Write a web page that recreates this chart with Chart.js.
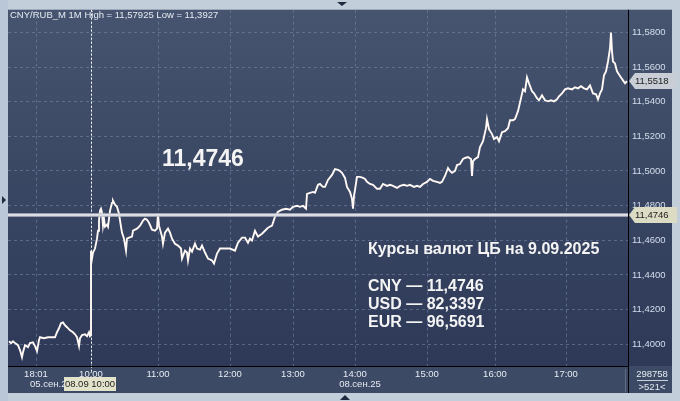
<!DOCTYPE html>
<html><head><meta charset="utf-8">
<script src="https://cdn.jsdelivr.net/npm/chart.js@4.4.0/dist/chart.umd.min.js"></script>
<style>html,body{margin:0;padding:0;background:#c4cedb;overflow:hidden}canvas{display:block}</style>
</head><body>
<canvas id="c" width="680" height="401"></canvas>
<script>
// minute-bar index along the session timeline
const barIdx = [1,3,5,7,10,12,14,15,17,20,22,25,27,29,31,32,36,40,44,47,49,51,53,55,57,59,62,65,67,69,71,72,74,77,79,81,82,83,83,84,85,87,89,90,91,92,93,94,95,96,97,99,100,102,104,105,107,109,111,113,114,116,118,119,121,124,125,129,132,135,137,139,141,144,147,149,150,151,154,155,157,160,162,164,167,170,173,174,177,179,180,182,184,187,189,192,194,197,200,204,206,209,212,217,222,227,230,234,237,240,242,244,247,250,254,257,260,264,267,270,274,278,282,285,289,292,295,298,299,302,305,307,310,312,315,317,320,324,327,330,332,334,337,339,342,344,345,346,347,349,352,355,357,359,362,365,369,372,375,379,382,385,389,392,396,399,402,406,409,412,415,419,422,425,429,432,434,437,440,442,444,447,449,452,455,457,460,463,464,465,467,470,472,475,478,479,481,484,486,489,491,494,497,500,502,505,507,510,513,515,517,519,521,524,526,529,531,534,537,540,543,546,549,551,554,557,560,564,567,570,573,576,579,582,585,588,590,592,594,596,598,600,602,603,604,605,607,609,611,613,615,617,619];
const price = [11.4017,11.4006,11.4017,11.4006,11.3994,11.3966,11.3925,11.3954,11.3994,11.3983,11.4006,11.4011,11.3989,11.3960,11.4023,11.4040,11.4034,11.4040,11.4040,11.4040,11.4069,11.4092,11.4121,11.4126,11.4109,11.4098,11.4080,11.4069,11.4057,11.4040,11.3989,11.4034,11.4052,11.4057,11.4046,11.4069,11.4046,11.4052,11.4540,11.4494,11.4529,11.4552,11.4609,11.4655,11.4713,11.4770,11.4782,11.4759,11.4684,11.4724,11.4678,11.4690,11.4678,11.4770,11.4816,11.4828,11.4805,11.4793,11.4753,11.4678,11.4644,11.4609,11.4540,11.4609,11.4615,11.4621,11.4655,11.4667,11.4684,11.4713,11.4724,11.4718,11.4701,11.4661,11.4655,11.4667,11.4753,11.4684,11.4621,11.4580,11.4644,11.4667,11.4644,11.4609,11.4580,11.4569,11.4552,11.4494,11.4540,11.4529,11.4483,11.4552,11.4534,11.4580,11.4552,11.4546,11.4569,11.4529,11.4494,11.4483,11.4466,11.4523,11.4552,11.4552,11.4552,11.4540,11.4586,11.4615,11.4615,11.4586,11.4609,11.4598,11.4655,11.4621,11.4638,11.4655,11.4672,11.4684,11.4736,11.4764,11.4776,11.4782,11.4776,11.4793,11.4799,11.4793,11.4799,11.4782,11.4868,11.4874,11.4879,11.4874,11.4920,11.4925,11.4908,11.4908,11.4948,11.4977,11.5011,11.5006,11.5000,11.4989,11.4960,11.4908,11.4879,11.4839,11.4782,11.4856,11.4891,11.4966,11.4966,11.4960,11.4954,11.4937,11.4925,11.4920,11.4897,11.4897,11.4925,11.4914,11.4920,11.4914,11.4902,11.4914,11.4920,11.4914,11.4920,11.4908,11.4914,11.4908,11.4925,11.4937,11.4954,11.4943,11.4937,11.4931,11.4937,11.4971,11.5017,11.5000,11.4989,11.5000,11.5034,11.5040,11.5069,11.5075,11.5080,11.5069,11.4971,11.5057,11.5069,11.5080,11.5138,11.5172,11.5247,11.5299,11.5241,11.5213,11.5184,11.5195,11.5172,11.5224,11.5230,11.5247,11.5293,11.5293,11.5299,11.5345,11.5420,11.5471,11.5460,11.5540,11.5506,11.5460,11.5448,11.5420,11.5408,11.5437,11.5408,11.5402,11.5408,11.5402,11.5414,11.5431,11.5448,11.5471,11.5477,11.5471,11.5483,11.5477,11.5489,11.5477,11.5471,11.5494,11.5448,11.5443,11.5414,11.5448,11.5471,11.5552,11.5575,11.5632,11.5707,11.5799,11.5690,11.5632,11.5621,11.5575,11.5557,11.5540,11.5523,11.5506,11.5518];

const timeTickBars = [28,83,150,222,285,347,419,487,558];
const timeTickLabels = ['18:01','10:00','11:00','12:00','13:00','14:00','15:00','16:00','17:00'];
const priceTicks = [11.40,11.42,11.44,11.46,11.48,11.50,11.52,11.54,11.56,11.58];
const dateLabels = ['05.сен.25','08.сен.25'];
const dateBars = [28,347];
const cbRate = 11.4746;
const lastPrice = 11.5518;
const cursorBar = 83;
const cursorLabel = '08.09 10:00';
const headerText = 'CNY/RUB_M 1M High = 11,57925 Low = 11,3927';
const bigText = '11,4746';
const titleText = 'Курсы валют ЦБ на 9.09.2025';
const rateLines = ['CNY — 11,4746','USD — 82,3397','EUR — 96,5691'];
const volumeText = '298758';
const barsText = '>521<';
const xMin = 0, xMax = 620, yMin = 11.3874, yMax = 11.5931;

const fmt = v => v.toFixed(4).replace('.', ',');
const FONT = '"Liberation Sans", Arial, sans-serif';

const priceData = barIdx.map((b,i)=>({x:b,y:price[i]}));
const cbData = [{x:xMin,y:cbRate},{x:xMax,y:cbRate}];

function tri(ctx, pts, color){ctx.fillStyle=color;ctx.beginPath();ctx.moveTo(pts[0],pts[1]);ctx.lineTo(pts[2],pts[3]);ctx.lineTo(pts[4],pts[5]);ctx.closePath();ctx.fill();}

const deco = {
  id:'deco',
  beforeDraw(chart){
    const ctx=chart.ctx, a=chart.chartArea, W=chart.width, H=chart.height;
    ctx.save();
    ctx.fillStyle='#c3cedb'; ctx.fillRect(0,0,W,H);
    ctx.fillStyle='#b9c7d9'; ctx.fillRect(0,0,8,H);
    const g=ctx.createLinearGradient(0,a.top,0,a.bottom);
    g.addColorStop(0,'#46546f'); g.addColorStop(1,'#2d3957');
    ctx.fillStyle=g; ctx.fillRect(a.left,a.top,W-8-a.left,a.bottom-a.top);
    ctx.fillStyle='#3d4a65'; ctx.fillRect(a.left,a.bottom,W-8-a.left,393-a.bottom);
    ctx.restore();
  },
  beforeDatasetsDraw(chart){
    const ctx=chart.ctx, a=chart.chartArea, x=chart.scales.x.getPixelForValue(cursorBar);
    ctx.save(); ctx.strokeStyle='#ffffff'; ctx.lineWidth=1; ctx.setLineDash([2,2]);
    ctx.beginPath(); ctx.moveTo(Math.round(x)+0.5,a.top); ctx.lineTo(Math.round(x)+0.5,a.bottom+6); ctx.stroke();
    ctx.restore();
  },
  afterDraw(chart){
    const ctx=chart.ctx, a=chart.chartArea, W=chart.width, xs=chart.scales.x, ys=chart.scales.y;
    ctx.save();
    // axis lines
    ctx.strokeStyle='#000'; ctx.lineWidth=1;
    ctx.beginPath(); ctx.moveTo(a.left,a.bottom+0.5); ctx.lineTo(a.right,a.bottom+0.5); ctx.stroke();
    ctx.beginPath(); ctx.moveTo(a.right+0.5,a.top); ctx.lineTo(a.right+0.5,393); ctx.stroke();
    ctx.strokeStyle='#5d6a83';
    ctx.beginPath(); ctx.moveTo(625.5,369); ctx.lineTo(625.5,392); ctx.stroke();
    // header
    ctx.fillStyle='#e6ebf3'; ctx.font='9.5px '+FONT; ctx.textBaseline='middle'; ctx.textAlign='left';
    ctx.fillText(headerText,10,15);
    // date labels
    ctx.fillStyle='#e6ebf3';
    ctx.textAlign='left'; ctx.fillText(dateLabels[0], xs.getPixelForValue(dateBars[0])-6, 384);
    ctx.textAlign='center'; ctx.fillText(dateLabels[1], xs.getPixelForValue(dateBars[1])+5, 384);
    // cursor box
    const cx=xs.getPixelForValue(cursorBar);
    ctx.fillStyle='#e3e3cb'; ctx.fillRect(cx-27,377,52,14);
    ctx.fillStyle='#1c1c1c'; ctx.textAlign='center'; ctx.fillText(cursorLabel,cx-1,384.5);
    // price boxes
    function pbox(v,bg){
      const y=Math.round(ys.getPixelForValue(v));
      ctx.fillStyle=bg; ctx.beginPath();
      ctx.moveTo(a.right+1,y); ctx.lineTo(a.right+7,y-8); ctx.lineTo(677,y-8); ctx.lineTo(677,y+8); ctx.lineTo(a.right+7,y+8); ctx.closePath(); ctx.fill();
      ctx.fillStyle='#1a1a1a'; ctx.textAlign='left'; ctx.font='9.5px '+FONT; ctx.fillText(fmt(v),a.right+7,y+0.5);
    }
    pbox(lastPrice,'#c9cdd5');
    pbox(cbRate,'#dcdcc4');
    // volume box
    ctx.fillStyle='#e6ebf3'; ctx.textAlign='center';
    ctx.fillText(volumeText,652,374); ctx.fillText(barsText,652,387.5);
    ctx.strokeStyle='#c8d0dc'; ctx.beginPath(); ctx.moveTo(637,380.5); ctx.lineTo(668,380.5); ctx.stroke();
    // annotations
    ctx.fillStyle='#f4f4f4'; ctx.textAlign='left';
    ctx.font='bold 23px '+FONT; ctx.fillText(bigText,162,160);
    ctx.font='bold 16px '+FONT; ctx.fillText(titleText,368,250);
    rateLines.forEach((t,i)=>ctx.fillText(t,368,287+i*18));
    // frame triangles
    tri(ctx,[337,2,347,2,342,6],'#1e2a3e');
    tri(ctx,[340,400,350,400,345,395],'#1e2a3e');
    tri(ctx,[2,196,2,204,6,200],'#1e2a3e');
    ctx.restore();
  }
};

new Chart(document.getElementById('c'),{
  type:'line',
  data:{datasets:[
    {data:cbData,borderColor:'#ffffff',borderWidth:1,pointRadius:0},
    {data:cbData,borderColor:'#b9bdc8',borderWidth:3.5,pointRadius:0},
    {data:priceData,borderColor:'#fff8f4',borderWidth:1.9,pointRadius:0,tension:0}
  ]},
  options:{
    responsive:false,animation:false,devicePixelRatio:1,
    layout:{padding:{left:8,top:8,right:8,bottom:8}},
    plugins:{legend:{display:false},tooltip:{enabled:false}},
    scales:{
      x:{type:'linear',min:xMin,max:xMax,position:'bottom',
        afterFit(s){s.height=27;},
        afterBuildTicks(s){s.ticks=timeTickBars.map(v=>({value:v}));},
        ticks:{autoSkip:false,maxRotation:0,padding:3,color:'#e6ebf3',font:{family:FONT,size:9.5},
          callback:(v)=>{const i=timeTickBars.indexOf(v);return i>=0?timeTickLabels[i]:'';}},
        grid:{color:'rgba(120,138,170,0.55)',drawTicks:false,lineWidth:1},
        border:{display:false,dash:[3,3]}
      },
      y:{type:'linear',min:yMin,max:yMax,position:'right',
        afterFit(s){s.width=44;},
        afterBuildTicks(s){s.ticks=priceTicks.map(v=>({value:v}));},
        ticks:{padding:4,color:'#d4deec',font:{family:FONT,size:9.5},callback:v=>fmt(v)},
        grid:{color:'rgba(120,138,170,0.55)',drawTicks:false,lineWidth:1},
        border:{display:false,dash:[3,3]}
      }
    }
  },
  plugins:[deco]
});
</script>
</body></html>
